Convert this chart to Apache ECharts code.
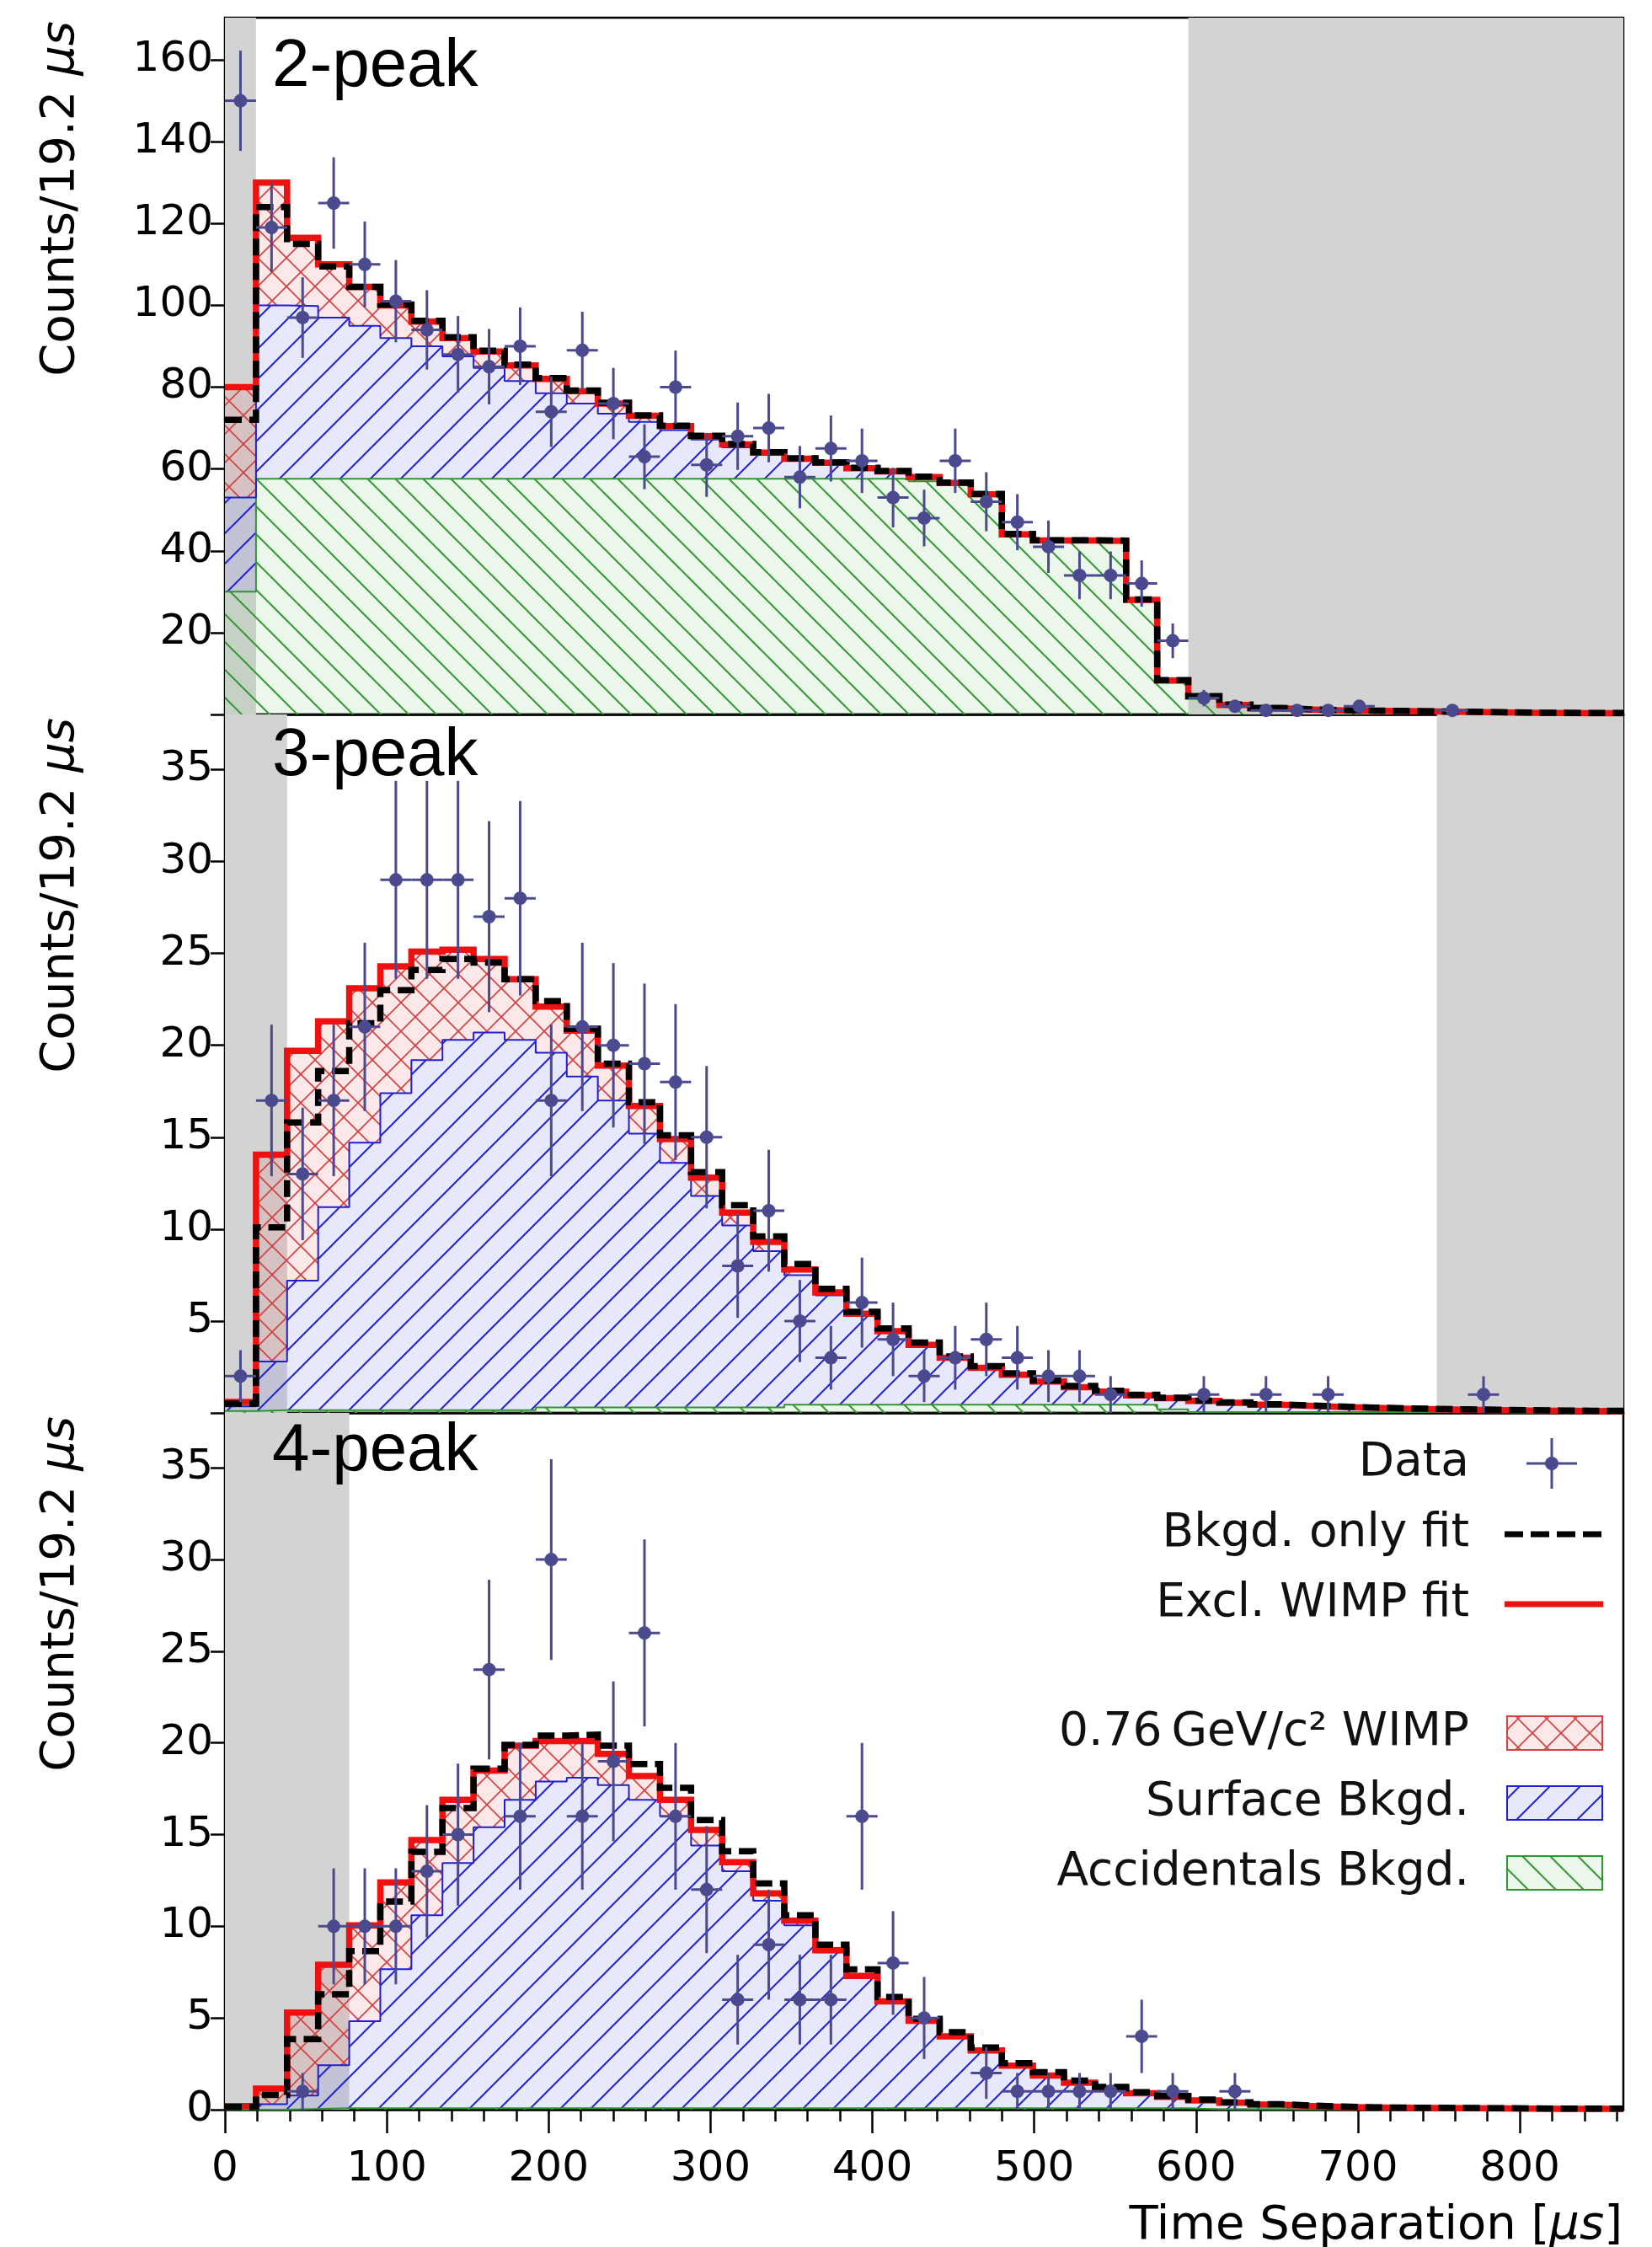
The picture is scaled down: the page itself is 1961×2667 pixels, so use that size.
<!DOCTYPE html>
<html><head><meta charset="utf-8">
<script src="https://cdn.jsdelivr.net/npm/echarts@6/dist/echarts.min.js"></script>
<style>html,body{margin:0;padding:0;background:#fff}#c{width:1961px;height:2667px}</style>
</head><body><div id="c"></div>
<script>
// ---------------- DATA ----------------
const BIN_WIDTH = 19.2;      // µs per bin
const N_BINS = 45;
const X_MAX = 864;

const xTickLabels = [0, 100, 200, 300, 400, 500, 600, 700, 800];

// 2-peak
const peak2_accidentals = [30, 57.6,57.6,57.6,57.6,57.6,57.6,57.6,57.6,57.6,57.6,57.6,57.6,57.6,57.6,57.6,57.6,57.6,57.6,57.6,57.6,57.6,
  57, 56, 53.4, 43.9, 42.4, 42.4, 42.3, 27.9, 8.2, 4.3, 2.2, 1.4, 1.1, 0.95, 0.85, 0.75, 0.65, 0.55, 0.45, 0.38, 0.33, 0.28, 0.28];
const peak2_surface = [23, 42.4, 42.2, 39.4, 37.4, 34.4, 32.4, 29.9, 27.1, 23.9, 20.9, 18.4, 15.9, 13.9, 11.9, 9.6, 7.7, 5.8, 4.4, 3.4,
  2.2, 1.5, 0.8, 0.5, 0.3, 0.1, 0.1, 0.1, 0.1, 0.1, 0.1, 0.1, 0.1, 0.1, 0.1, 0.05, 0.05, 0.05, 0.05, 0.05, 0.05, 0.05, 0.02, 0.02, 0.02];
const peak2_wimp = [27, 30, 16.7, 13, 9.5, 8, 6, 4.5, 4, 3.8, 3.5, 3, 2.5, 1.5, 1, 0.8, 0.7, 0.6, 0.5, 0.5, 0.4, 0.3, 0.2, 0.1, 0.1,
  0,0,0,0,0,0,0,0,0,0,0,0,0,0,0,0,0,0,0,0];
const peak2_bkgdOnly = [72, 124, 115, 109.5, 104.5, 100.2, 96.2, 92.2, 88.9, 85.5,
  82.2, 79.2, 76.2, 73.1, 70.6, 68.1, 66.1, 64.1, 62.6, 61.6,
  60.3, 59.5, 58.1, 56.7, 53.9, 44.1, 42.6, 42.6, 42.5, 28.1,
  8.4, 4.5, 2.4, 1.6, 1.25, 1.05, 0.95, 0.85, 0.75, 0.65,
  0.55, 0.45, 0.4, 0.35, 0.35];
const peak2_data = [150,119,97,125,110,101,94,88,85,90, 74,89,76,63,80,61,68,70,58,65,
  62,53,48,62,52,47,41,34,34,32, 18,4,2,1,1,1,2,0,0,1, 0,0,0,0,0];

// 3-peak
const peak3_accidentals = [0.1, 0.15,0.15,0.15,0.15,0.15,0.15,0.15,0.15,0.15,
  0.3,0.3,0.3,0.3,0.3,0.3,0.3,0.3,
  0.45,0.45,0.45,0.45,0.45,0.45,0.45,0.45,0.45,0.45,0.45,0.45,
  0.2, 0.05,0.05,0.05,0.05,0.05,0.05,0.05,0.05,0.05,0.05,0.05,0.05,0.05,0.05];
const peak3_surface = [0.25, 2.65, 7.05, 11.05, 14.55, 17.25, 19.05, 20.15, 20.55, 20.15,
  19.3, 18.0, 16.7, 14.9, 13.3, 11.5, 9.9, 8.5, 7.05, 5.95,
  4.85, 3.95, 3.22, 2.53, 2.0, 1.62, 1.26, 0.95, 0.71, 0.5,
  0.6, 0.6, 0.5, 0.4, 0.33, 0.27, 0.22, 0.18, 0.15, 0.12,
  0.1, 0.08, 0.06, 0.05, 0.04];
const peak3_wimp = [0.25, 11.25, 12.5, 10.1, 8.4, 6.9, 5.9, 4.9, 4.0, 3.3,
  2.5, 2.5, 1.9, 1.5, 1.3, 1.0, 0.7, 0.5, 0.3, 0.15,
  0.1, 0.05, 0.03, 0.02, 0,0,0,0,0,0, 0,0,0,0,0,0,0,0,0,0, 0,0,0,0,0];
const peak3_bkgdOnly = [0.5, 10.1, 15.8, 18.6, 21.2, 23.0, 24.1, 24.7, 24.5, 23.6,
  22.4, 20.9, 19.0, 16.9, 15.1, 13.1, 11.3, 9.6, 8.1, 6.75,
  5.5, 4.6, 3.83, 3.07, 2.54, 2.16, 1.77, 1.47, 1.2, 0.98,
  0.82, 0.67, 0.57, 0.47, 0.4, 0.34, 0.29, 0.25, 0.22, 0.19,
  0.17, 0.15, 0.13, 0.12, 0.11];
const peak3_data = [2,17,13,17,21,29,29,29,27,28, 17,21,20,19,18,15,8,11,5,3,
  6,4,2,3,4,3,2,2,1,0, 0,1,0,1,0,1,0,0,0,0, 1,0,0,0,0];

// 4-peak
const peak4_accidentals = [0, 0, 0.05,
  0.08,0.08,0.08,0.08,0.08,0.08,0.08,0.08,0.08,0.08,0.08,0.08,0.08,0.08,0.08,0.08,0.08,0.08,0.08,0.08,0.08,0.08,0.08,0.08,0.08,0.08,0.08,0.08,
  0.02,0.02,0.02,0.02,0.02,0.02,0.02,0.02,0.02,0.02,0.02,0.02,0.02,0.02];
const peak4_surface = [0.1, 0.3, 0.72, 2.34, 4.75, 7.58, 10.52, 13.37, 15.32, 16.82,
  17.82, 18.02, 17.62, 16.82, 15.92, 14.32, 12.92, 11.32, 9.97, 8.5,
  7.12, 5.77, 4.74, 3.9, 3.14, 2.32, 1.78, 1.39, 1.09, 0.82,
  0.62, 0.48, 0.36, 0.26, 0.18, 0.13, 0.1, 0.08, 0.07, 0.06,
  0.05, 0.04, 0.03, 0.03, 0.03];
const peak4_wimp = [0.1, 0.85, 4.53, 5.48, 5.22, 4.74, 4.1, 3.45, 3.1, 2.95,
  2.2, 2.0, 1.7, 1.3, 0.9, 0.85, 0.5, 0.4, 0.25, 0.12,
  0.1, 0.05, 0.03, 0.02, 0.01, 0,0,0,0,0, 0,0,0,0,0,0,0,0,0,0, 0,0,0,0,0];
const peak4_bkgdOnly = [0.15, 0.8, 3.85, 6.3, 8.65, 11.35, 14.06, 16.45, 18.6, 19.9,
  20.4, 20.45, 19.85, 18.85, 17.55, 15.8, 14.1, 12.34, 10.6, 9.0,
  7.65, 6.14, 4.95, 4.23, 3.39, 2.54, 2.04, 1.58, 1.24, 0.95,
  0.75, 0.55, 0.4, 0.3, 0.22, 0.17, 0.13, 0.11, 0.1, 0.09,
  0.08, 0.07, 0.06, 0.06, 0.06];
const peak4_data = [0,0,1,10,10,10,13,15,24,16, 30,16,19,26,16,12,6,9,6,6,
  16,8,5,0,2,1,1,1,1,4, 1,0,1,0,0,0,0,0,0,0, 0,0,0,0,0];

// excluded (grey) time windows [from, to] in µs
const peak2_grey = [[0, 19.2], [595.2, 864]];
const peak3_grey = [[0, 38.4], [748.8, 864]];
const peak4_grey = [[0, 76.8]];

const peak2_yLabels = [20, 40, 60, 80, 100, 120, 140, 160];
const peak3_yLabels = [5, 10, 15, 20, 25, 30, 35];
const peak4_yLabels = [0, 5, 10, 15, 20, 25, 30, 35];

// ---------------- STYLE / LAYOUT ----------------
const DATA_COLOR = '#4b4a8f';
const GRID_LEFT = 267, GRID_RIGHT = 34;
const panels = [
  {label: '2-peak', top: 21, height: 827, yMax: 170.3, major: 20, minor: 5, labelY: 80,
   acc: peak2_accidentals, surf: peak2_surface, wimp: peak2_wimp, bkgd: peak2_bkgdOnly, data: peak2_data,
   grey: peak2_grey, yLabels: peak2_yLabels},
  {label: '3-peak', top: 848, height: 829, yMax: 38, major: 5, minor: 1, labelY: 898,
   acc: peak3_accidentals, surf: peak3_surface, wimp: peak3_wimp, bkgd: peak3_bkgdOnly, data: peak3_data,
   grey: peak3_grey, yLabels: peak3_yLabels},
  {label: '4-peak', top: 1677, height: 827, yMax: 38, major: 5, minor: 1, labelY: 1723,
   acc: peak4_accidentals, surf: peak4_surface, wimp: peak4_wimp, bkgd: peak4_bkgdOnly, data: peak4_data,
   grey: peak4_grey, yLabels: peak4_yLabels}
];

function hatch(kind, color, bg, s, lw) {
  const c = document.createElement('canvas');
  c.width = s; c.height = s;
  const g = c.getContext('2d');
  g.fillStyle = bg; g.fillRect(0, 0, s, s);
  g.strokeStyle = color; g.lineWidth = lw;
  const ln = (a, b, cc, d) => { g.beginPath(); g.moveTo(a, b); g.lineTo(cc, d); g.stroke(); };
  if (kind === '/' || kind === 'x') { ln(-2, s + 2, s + 2, -2); ln(-2, 2, 2, -2); ln(s - 2, s + 2, s + 2, s - 2); }
  if (kind === '\\' || kind === 'x') { ln(-2, -2, s + 2, s + 2); ln(s - 2, -2, s + 2, 2); ln(-2, s - 2, 2, s + 2); }
  return c;
}
const patBlue = {image: hatch('/', '#2424d4', 'rgba(120,120,235,0.17)', 36, 2), repeat: 'repeat'};
const patGreen = {image: hatch('\\', '#339933', 'rgba(110,200,110,0.14)', 33, 2), repeat: 'repeat'};
const patRed = {image: hatch('x', '#d04444', 'rgba(235,90,90,0.14)', 34, 1.7), repeat: 'repeat'};

function stepData(vals) {
  const d = vals.map((v, i) => [i * BIN_WIDTH, v]);
  d.push([X_MAX, vals[vals.length - 1]]);
  return d;
}
function range(a, b, step, skip) {
  const r = [];
  for (let v = a; v <= b + 1e-9; v += step) { const vv = Math.round(v * 100) / 100; if (!skip || Math.abs(vv / skip - Math.round(vv / skip)) > 1e-6) r.push(vv); }
  return r;
}

const FONT = 'DejaVu Sans';
const grids = [], xAxes = [], yAxes = [], series = [], graphics = [];

panels.forEach((p, k) => {
  grids.push({left: GRID_LEFT, right: GRID_RIGHT, top: p.top, height: p.height, show: true,
    borderColor: '#000', borderWidth: 2.5, backgroundColor: 'rgba(0,0,0,0)'});
  const last = k === panels.length - 1;
  xAxes.push({type: 'value', gridIndex: k, min: 0, max: X_MAX, interval: 100, position: 'bottom',
    axisLine: {show: true, lineStyle: {color: '#000', width: 2.5}},
    axisTick: {show: last, length: 28, lineStyle: {color: '#000', width: 2.5}, customValues: xTickLabels},
    axisLabel: {show: last, customValues: xTickLabels, fontSize: 50, fontFamily: FONT, color: '#000', margin: 46},
    splitLine: {show: false}});
  xAxes.push({type: 'value', gridIndex: k, min: 0, max: X_MAX, interval: 20, position: 'bottom',
    axisLine: {show: false},
    axisTick: {show: last, length: 14, lineStyle: {color: '#000', width: 2.5}, customValues: range(20, 860, 20, 100)},
    axisLabel: {show: false}, splitLine: {show: false}});
  const majorTicks = range(0, p.yMax, p.major);
  yAxes.push({type: 'value', gridIndex: k, min: 0, max: p.yMax, interval: p.major,
    axisLine: {show: true, lineStyle: {color: '#000', width: 2.5}},
    axisTick: {show: true, length: 17, lineStyle: {color: '#000', width: 2.5}, customValues: majorTicks},
    axisLabel: {customValues: p.yLabels, fontSize: 50, fontFamily: FONT, color: '#000', margin: 14},
    splitLine: {show: false}});
  yAxes.push({type: 'value', gridIndex: k, min: 0, max: p.yMax, interval: p.minor,
    axisLine: {show: false},
    axisTick: {show: true, length: 11, lineStyle: {color: '#000', width: 2.5}, customValues: range(p.minor, p.yMax, p.minor, p.major)},
    axisLabel: {show: false}, splitLine: {show: false}});

  const xi = 2 * k, yi = 2 * k;
  // grey excluded windows
  series.push({type: 'custom', xAxisIndex: xi, yAxisIndex: yi, z: 1, silent: true,
    data: p.grey.map(g => [g[0], g[1], 0]), encode: {x: [0, 1], y: 2},
    renderItem: (params, api) => {
      const cs = params.coordSys;
      const a = api.coord([api.value(0), 0])[0], b = api.coord([api.value(1), 0])[0];
      return {type: 'rect', shape: {x: a, y: cs.y, width: b - a, height: cs.height}, style: {fill: '#d3d3d3'}};
    }});

  // stacked hatched components, built bin by bin from the component arrays
  const topGreen = p.acc.slice();
  const topBlue = p.acc.map((a, i) => a + p.surf[i]);
  const topRed = topBlue.map((b, i) => b + p.wimp[i]);
  series.push({type: 'custom', xAxisIndex: xi, yAxisIndex: yi, z: 2, silent: true,
    data: p.acc.map((a, i) => [i * BIN_WIDTH, (i + 1) * BIN_WIDTH, topGreen[i], topBlue[i], topRed[i]]),
    encode: {x: [0, 1], y: [2, 3, 4]},
    renderItem: (params, api) => {
      const xa = Math.round(api.coord([api.value(0), 0])[0]);
      const xb = Math.round(api.coord([api.value(1), 0])[0]);
      const y0 = Math.round(api.coord([0, 0])[1]);
      const yg = Math.round(api.coord([0, api.value(2)])[1]);
      const yb = Math.round(api.coord([0, api.value(3)])[1]);
      const yr = Math.round(api.coord([0, api.value(4)])[1]);
      const kids = [];
      const add = (lo, hi, fill) => { if (lo - hi > 0) kids.push({type: 'rect', shape: {x: xa, y: hi, width: xb - xa, height: lo - hi}, style: {fill: fill}}); };
      add(y0, yg, patGreen); add(yg, yb, patBlue); add(yb, yr, patRed);
      return {type: 'group', children: kids};
    }});
  const lineCommon = {type: 'line', xAxisIndex: xi, yAxisIndex: yi, step: 'end', symbol: 'none',
    showSymbol: false, silent: true, emphasis: {disabled: true}};
  series.push(Object.assign({}, lineCommon, {name: 'Accidentals Bkgd.', z: 3, data: stepData(topGreen),
    lineStyle: {color: '#2f952f', width: 2}}));
  series.push(Object.assign({}, lineCommon, {name: 'Surface Bkgd.', z: 3, data: stepData(topBlue),
    lineStyle: {color: '#2020d0', width: 2}}));
  series.push(Object.assign({}, lineCommon, {name: 'Excl. WIMP fit', z: 4, data: stepData(topRed),
    lineStyle: {color: '#ee1111', width: 7.5, join: 'miter'}}));
  series.push(Object.assign({}, lineCommon, {name: 'Bkgd. only fit', z: 5, data: stepData(p.bkgd),
    lineStyle: {color: '#000', width: 7.5, type: [20, 9], join: 'miter'}}));
  series.push({type: 'custom', xAxisIndex: xi, yAxisIndex: yi, z: 6, silent: true, name: 'Data',
    data: p.data.map((n, i) => [i * BIN_WIDTH + BIN_WIDTH / 2, n]), encode: {x: 0, y: 1},
    renderItem: (params, api) => {
      const x = api.value(0), n = api.value(1);
      if (!(n > 0)) return null;
      const e = Math.sqrt(n);
      const c = api.coord([x, n]), t = api.coord([x, n + e]), b = api.coord([x, n - e]);
      const l = api.coord([x - BIN_WIDTH / 2, n]), r = api.coord([x + BIN_WIDTH / 2, n]);
      return {type: 'group', children: [
        {type: 'line', shape: {x1: c[0], y1: t[1], x2: c[0], y2: b[1]}, style: {stroke: DATA_COLOR, lineWidth: 3}},
        {type: 'line', shape: {x1: l[0], y1: c[1], x2: r[0], y2: c[1]}, style: {stroke: DATA_COLOR, lineWidth: 3}},
        {type: 'circle', shape: {cx: c[0], cy: c[1], r: 8}, style: {fill: DATA_COLOR}}
      ]};
    }});

  graphics.push({type: 'text', x: 323, y: p.labelY, z: 100,
    style: {text: p.label, fontSize: 80, fontFamily: 'Liberation Sans', fill: '#000', verticalAlign: 'middle'}});
  graphics.push({type: 'text', x: 72, y: p.top + 4, rotation: Math.PI / 2, z: 100,
    style: {text: 'Counts/19.2 {it|μs}', fontSize: 56, fontFamily: FONT, fill: '#000', align: 'right', verticalAlign: 'middle',
      rich: {it: {fontStyle: 'italic', fontSize: 56, fontFamily: FONT}}}});
});

graphics.push({type: 'text', x: 1926, y: 2642, z: 100,
  style: {text: 'Time Separation [{it|μs}]', fontSize: 56, fontFamily: FONT, fill: '#000', align: 'right', verticalAlign: 'middle',
    rich: {it: {fontStyle: 'italic', fontSize: 56, fontFamily: FONT}}}});

// legend
const legendRows = [
  {y: 1737, text: 'Data', sym: 'data'},
  {y: 1821, text: 'Bkgd. only fit', sym: 'dash'},
  {y: 1904, text: 'Excl. WIMP fit', sym: 'red'},
  {y: 2057, text: '0.76\u2009GeV/c\u00b2 WIMP', sym: 'wimp'},
  {y: 2140, text: 'Surface Bkgd.', sym: 'surf'},
  {y: 2223, text: 'Accidentals Bkgd.', sym: 'acc'}
];
const LX0 = 1786, LX1 = 1903;
legendRows.forEach(r => {
  graphics.push({type: 'text', x: 1744, y: r.y, z: 100,
    style: {text: r.text, fontSize: 55, fontFamily: FONT, fill: '#111', align: 'right', verticalAlign: 'middle'}});
  if (r.sym === 'data') {
    graphics.push({type: 'line', z: 100, shape: {x1: 1812, y1: r.y, x2: 1872, y2: r.y}, style: {stroke: DATA_COLOR, lineWidth: 3}});
    graphics.push({type: 'line', z: 100, shape: {x1: 1842, y1: r.y - 30, x2: 1842, y2: r.y + 30}, style: {stroke: DATA_COLOR, lineWidth: 3}});
    graphics.push({type: 'circle', z: 100, shape: {cx: 1842, cy: r.y, r: 8}, style: {fill: DATA_COLOR}});
  } else if (r.sym === 'dash') {
    graphics.push({type: 'line', z: 100, shape: {x1: LX0, y1: r.y, x2: LX1, y2: r.y}, style: {stroke: '#000', lineWidth: 7, lineDash: [22, 9]}});
  } else if (r.sym === 'red') {
    graphics.push({type: 'line', z: 100, shape: {x1: LX0, y1: r.y, x2: LX1, y2: r.y}, style: {stroke: '#ee1111', lineWidth: 7}});
  } else {
    const pat = r.sym === 'wimp' ? patRed : r.sym === 'surf' ? patBlue : patGreen;
    const col = r.sym === 'wimp' ? '#d04444' : r.sym === 'surf' ? '#2020d0' : '#2f952f';
    graphics.push({type: 'rect', z: 100, shape: {x: 1789, y: r.y - 20, width: 113, height: 40},
      style: {fill: pat, stroke: col, lineWidth: 2}});
  }
});

const chart = echarts.init(document.getElementById('c'), null, {renderer: 'canvas'});
chart.setOption({
  animation: false,
  backgroundColor: '#fff',
  grid: grids, xAxis: xAxes, yAxis: yAxes, series: series, graphic: graphics
});
</script></body></html>
